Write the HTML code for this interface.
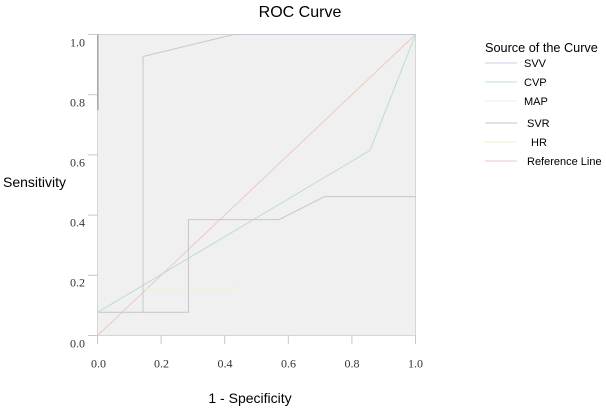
<!DOCTYPE html>
<html><head><meta charset="utf-8"><style>
html,body{margin:0;padding:0;background:#fff;width:606px;height:410px;overflow:hidden}
svg{display:block}
.s{font-family:"Liberation Sans",Arial,sans-serif;fill:#000}
.t{font-family:"Liberation Serif","Times New Roman",serif;font-size:12px;fill:#333}
</style></head><body>
<svg width="606" height="410" viewBox="0 0 606 410" xmlns="http://www.w3.org/2000/svg">
<rect x="0" y="0" width="606" height="410" fill="#fff"/>
<text class="s" x="300" y="17" font-size="16" text-anchor="middle">ROC Curve</text>
<!-- plot area -->
<rect x="97.5" y="34.5" width="318" height="301" fill="#f0f0f0" stroke="#d6d6d6" stroke-width="1"/>
<g stroke="#c8c8c8" stroke-width="1">
<line x1="88" y1="34.5" x2="97.5" y2="34.5"/>
<line x1="88" y1="94.7" x2="97.5" y2="94.7"/>
<line x1="88" y1="154.9" x2="97.5" y2="154.9"/>
<line x1="88" y1="215.1" x2="97.5" y2="215.1"/>
<line x1="88" y1="275.3" x2="97.5" y2="275.3"/>
<line x1="88" y1="335.5" x2="97.5" y2="335.5"/>
<line x1="97.5" y1="335.5" x2="97.5" y2="344"/>
<line x1="161.1" y1="335.5" x2="161.1" y2="344"/>
<line x1="224.7" y1="335.5" x2="224.7" y2="344"/>
<line x1="288.3" y1="335.5" x2="288.3" y2="344"/>
<line x1="351.9" y1="335.5" x2="351.9" y2="344"/>
<line x1="415.5" y1="335.5" x2="415.5" y2="344"/>
</g>
<g class="t" text-anchor="end">
<text x="85" y="46.5">1.0</text>
<text x="85" y="106.5">0.8</text>
<text x="85" y="166.5">0.6</text>
<text x="85" y="226.5">0.4</text>
<text x="85" y="286.5">0.2</text>
<text x="85" y="347.5">0.0</text>
</g>
<g class="t" text-anchor="middle">
<text x="98.5" y="367.5">0.0</text>
<text x="161.5" y="367.5">0.2</text>
<text x="225" y="367.5">0.4</text>
<text x="288.5" y="367.5">0.6</text>
<text x="352" y="367.5">0.8</text>
<text x="415.5" y="367.5">1.0</text>
</g>
<!-- curves -->
<g fill="none" stroke-width="1">
<polyline points="97.5,335.5 415.5,34.5" stroke="#eec8c2"/>
<polyline points="143,289 238,289 238,280" stroke="#f4f0d8"/>
<polyline points="97.5,312.3 370,150.4 415.5,34.5" stroke="#bcdcd6"/>
<polyline points="97.5,312.3 188.4,312.3 188.4,219.6 279.1,219.6 324.6,196.6 415.5,196.6" stroke="#c6c6c6"/>
<polyline points="143,312.3 143,56.5 233.8,34.5 415.5,34.5" stroke="#c4c8d2"/>
<line x1="97.8" y1="34.5" x2="97.8" y2="110" stroke="#a6a6a6" stroke-width="1.5"/>
</g>
<text class="s" x="250" y="403" font-size="14" text-anchor="middle">1 - Specificity</text>
<text class="s" x="3" y="187" font-size="14">Sensitivity</text>
<!-- legend -->
<text class="s" x="485" y="52" font-size="12.7">Source of the Curve</text>
<g stroke-width="1">
<line x1="485" y1="63" x2="517" y2="63" stroke="#c8d0e6"/>
<line x1="485" y1="82" x2="517" y2="82" stroke="#b8e0d8"/>
<line x1="485" y1="101" x2="517" y2="101" stroke="#f2eedc"/>
<line x1="485" y1="123" x2="517" y2="123" stroke="#c0c8d0"/>
<line x1="485" y1="142" x2="517" y2="142" stroke="#f6f2c8"/>
<line x1="485" y1="161" x2="517" y2="161" stroke="#f0c4c4"/>
</g>
<g class="s" font-size="11">
<text x="524" y="67">SVV</text>
<text x="524" y="86">CVP</text>
<text x="524" y="105">MAP</text>
<text x="527" y="127">SVR</text>
<text x="531" y="146">HR</text>
<text x="527" y="165">Reference Line</text>
</g>
</svg>
</body></html>
